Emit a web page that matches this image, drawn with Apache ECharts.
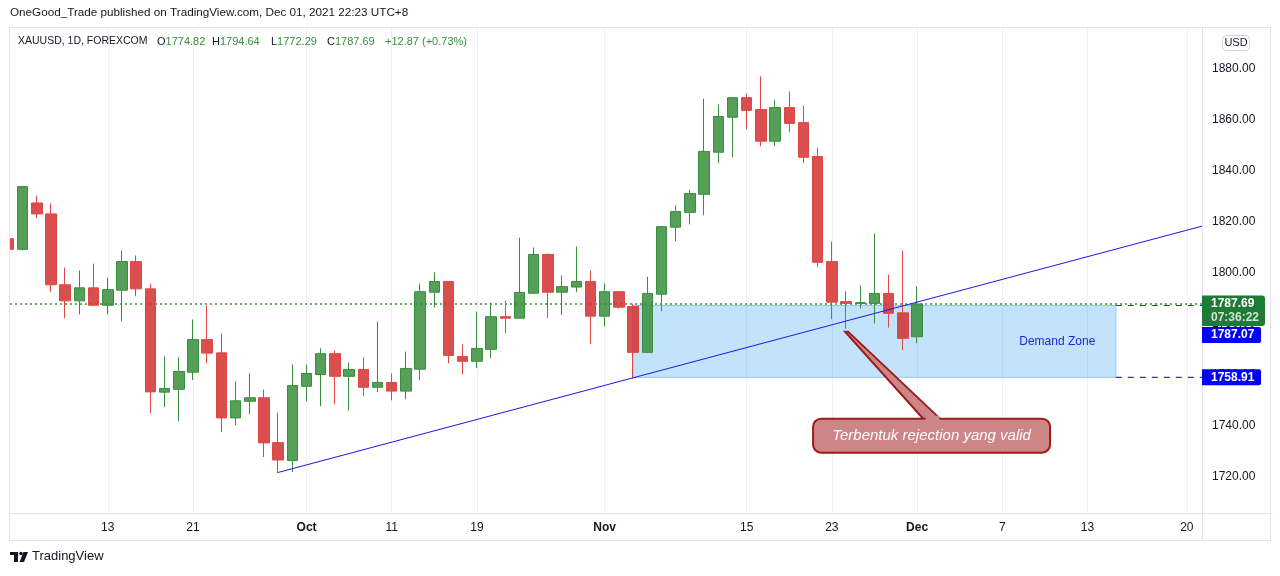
<!DOCTYPE html>
<html>
<head>
<meta charset="utf-8">
<title>XAUUSD 1D</title>
<script src="https://cdn.jsdelivr.net/npm/echarts@6/dist/echarts.min.js"></script>
<style>
  html, body { margin: 0; padding: 0; background: #ffffff; }
  #chart { width: 1280px; height: 576px; }
</style>
</head>
<body>
<div id="chart"></div>
<script>
// trading days, index 0 = Sep 2 2021
const dates = [
  'Sep 2', 'Sep 3', 'Sep 6', 'Sep 7', 'Sep 8', 'Sep 9', 'Sep 10', 'Sep 13', 'Sep 14', 'Sep 15',
  'Sep 16', 'Sep 17', 'Sep 20', 'Sep 21', 'Sep 22', 'Sep 23', 'Sep 24', 'Sep 27', 'Sep 28', 'Sep 29',
  'Sep 30', 'Oct 1', 'Oct 4', 'Oct 5', 'Oct 6', 'Oct 7', 'Oct 8', 'Oct 11', 'Oct 12', 'Oct 13',
  'Oct 14', 'Oct 15', 'Oct 18', 'Oct 19', 'Oct 20', 'Oct 21', 'Oct 22', 'Oct 25', 'Oct 26', 'Oct 27',
  'Oct 28', 'Oct 29', 'Nov 1', 'Nov 2', 'Nov 3', 'Nov 4', 'Nov 5', 'Nov 8', 'Nov 9', 'Nov 10',
  'Nov 11', 'Nov 12', 'Nov 15', 'Nov 16', 'Nov 17', 'Nov 18', 'Nov 19', 'Nov 22', 'Nov 23', 'Nov 24',
  'Nov 25', 'Nov 26', 'Nov 29', 'Nov 30', 'Dec 1'
]
const opens = [
  1813.3, 1809.1, 1827.3, 1823.0, 1795.2, 1788.9, 1794.0, 1787.2, 1793.1, 1804.3,
  1793.6, 1753.1, 1754.2, 1760.9, 1773.7, 1768.5, 1743.0, 1749.5, 1750.9, 1733.3,
  1726.3, 1755.4, 1760.0, 1768.2, 1759.3, 1762.0, 1755.0, 1756.9, 1753.5, 1762.1,
  1792.3, 1796.5, 1767.1, 1765.2, 1769.9, 1782.7, 1782.1, 1791.9, 1807.1, 1792.3,
  1794.3, 1796.5, 1782.9, 1792.5, 1786.7, 1768.7, 1791.5, 1817.8, 1823.6, 1830.7,
  1847.2, 1860.9, 1868.6, 1863.9, 1851.5, 1864.7, 1858.8, 1845.5, 1804.3, 1788.6,
  1787.9, 1787.9, 1791.8, 1784.2, 1774.82
]
const closes = [
  1809.1, 1833.7, 1823.0, 1795.2, 1788.9, 1794.0, 1787.2, 1793.3, 1804.3, 1793.6,
  1753.2, 1754.5, 1761.2, 1773.7, 1768.4, 1743.0, 1749.7, 1750.9, 1733.2, 1726.5,
  1755.7, 1760.4, 1768.2, 1759.3, 1762.0, 1755.0, 1756.9, 1753.5, 1762.4, 1792.5,
  1796.5, 1767.5, 1765.2, 1770.2, 1782.7, 1782.1, 1792.2, 1807.1, 1792.3, 1794.5,
  1796.5, 1782.9, 1792.5, 1786.4, 1768.7, 1791.8, 1818.0, 1823.9, 1831.0, 1847.5,
  1861.2, 1868.6, 1863.6, 1851.5, 1864.7, 1858.5, 1845.2, 1804.0, 1788.4, 1787.9,
  1788.2, 1791.8, 1784.0, 1774.2, 1787.69
]
const lows = [
  1808.5, 1808.7, 1821.3, 1792.3, 1782.1, 1783.6, 1786.8, 1783.6, 1780.9, 1790.7,
  1744.8, 1747.2, 1741.7, 1757.8, 1764.4, 1737.4, 1740.1, 1744.4, 1727.6, 1721.3,
  1721.8, 1749.5, 1747.6, 1748.4, 1745.9, 1751.5, 1753.1, 1749.9, 1750.3, 1757.8,
  1786.4, 1764.4, 1760.1, 1762.5, 1766.4, 1776.2, 1782.0, 1791.8, 1782.1, 1783.3,
  1792.3, 1771.9, 1778.9, 1785.9, 1758.4, 1768.6, 1784.8, 1812.2, 1818.9, 1822.5,
  1842.9, 1845.2, 1856.2, 1849.5, 1849.5, 1855.0, 1842.9, 1802.1, 1781.7, 1778.0,
  1785.9, 1780.0, 1778.4, 1769.5, 1772.29
]
const highs = [
  1814.0, 1834.0, 1830.2, 1827.1, 1802.0, 1800.8, 1803.5, 1798.0, 1808.6, 1806.7,
  1795.6, 1767.1, 1766.7, 1781.6, 1787.1, 1776.1, 1757.3, 1760.4, 1754.1, 1745.1,
  1763.9, 1763.9, 1770.3, 1769.4, 1764.7, 1766.7, 1780.8, 1760.4, 1769.0, 1795.7,
  1800.0, 1796.6, 1771.8, 1784.7, 1788.2, 1789.0, 1813.7, 1809.8, 1807.5, 1798.8,
  1810.2, 1800.8, 1795.7, 1792.7, 1787.8, 1798.4, 1818.1, 1826.3, 1832.5, 1868.2,
  1865.9, 1868.7, 1870.2, 1876.9, 1867.8, 1871.0, 1865.5, 1849.0, 1812.2, 1792.7,
  1794.9, 1815.3, 1799.2, 1808.6, 1794.64
]

// time scale labels (index: trading days up to Dec 1, calendar days after)
const tickIndex = [7, 13, 21, 27, 33, 42, 52, 58, 64, 70, 76, 83]
const tickLabels = ['13', '21', 'Oct', '11', '19', 'Nov', '15', '23', 'Dec', '7', '13', '20']
const priceTicks = [1720, 1740, 1760, 1780, 1800, 1820, 1840, 1860, 1880]

// drawings
const trendLine = [[19, 1721.6], [84.07, 1818.2]]
const zoneStart = 44      // Nov 3
const zoneEnd = 78        // Dec 15
const zoneTop = 1787.07
const zoneBottom = 1758.91
const lastPrice = 1787.69
const rejectIdx = 59      // Nov 24

const FONT = '"Liberation Sans", Arial, sans-serif'
const X_MIN = 0.113
const X_MAX = 84.07
const Y_MIN = 1705.7
const Y_MAX = 1896.3

const candles = dates.map((d, i) => [i, opens[i], closes[i], lows[i], highs[i]])

const flat = (x0, x1, y) => [[x0, y], [x1, y]]

const option = {
  animation: false,
  backgroundColor: '#ffffff',
  textStyle: { fontFamily: FONT },
  grid: { left: 10, right: 78, top: 27, bottom: 63 },
  xAxis: {
    type: 'value',
    min: X_MIN,
    max: X_MAX,
    axisLine: { show: true, lineStyle: { color: '#e0e3eb' } },
    axisTick: { show: false, customValues: tickIndex },
    axisLabel: {
      customValues: tickIndex,
      color: '#131722',
      fontSize: 12,
      margin: 9,
      formatter: (v) => {
        const s = tickLabels[tickIndex.indexOf(v)]
        return ['Oct', 'Nov', 'Dec'].includes(s) ? '{m|' + s + '}' : s
      },
      rich: { m: { fontWeight: 'bold', fontSize: 12, color: '#131722' } }
    },
    splitLine: { show: true, lineStyle: { color: '#eef0f4', width: 1 } }
  },
  yAxis: {
    type: 'value',
    position: 'right',
    min: Y_MIN,
    max: Y_MAX,
    axisLine: { show: true, lineStyle: { color: '#e0e3eb' } },
    axisTick: { show: false, customValues: priceTicks },
    axisLabel: {
      customValues: priceTicks,
      formatter: (v) => v.toFixed(2),
      color: '#131722',
      fontSize: 12,
      margin: 10
    },
    splitLine: { show: false }
  },
  series: [
    {
      // demand zone
      name: 'zone',
      type: 'line',
      z: 1,
      silent: true,
      showSymbol: false,
      lineStyle: { opacity: 0 },
      data: [[zoneStart, zoneTop], [zoneEnd, zoneBottom]],
      markArea: {
        silent: true,
        itemStyle: { color: 'rgba(33,150,243,0.27)', borderColor: '#90c8f6', borderWidth: 1 },
        label: { show: true, position: 'insideRight', distance: 21, color: '#2424e0', fontSize: 12, fontFamily: FONT },
        data: [[
          { name: 'Demand Zone', xAxis: zoneStart, yAxis: zoneTop },
          { xAxis: zoneEnd, yAxis: zoneBottom }
        ]]
      }
    },
    {
      // dashed rays from the zone edges
      name: 'rayTop', type: 'line', z: 2, silent: true, showSymbol: false,
      data: flat(zoneEnd, X_MAX, zoneTop),
      lineStyle: { type: [6, 6], color: '#2a2aff', width: 1.2 }
    },
    {
      name: 'rayBottom', type: 'line', z: 2, silent: true, showSymbol: false,
      data: flat(zoneEnd, X_MAX, zoneBottom),
      lineStyle: { type: [6, 6], color: '#2a2aff', width: 1.2 }
    },
    {
      // last price line
      name: 'last', type: 'line', z: 2, silent: true, showSymbol: false,
      data: flat(X_MIN, X_MAX, lastPrice),
      lineStyle: { type: [2, 3], color: '#388e3c', width: 1.5 }
    },
    {
      name: 'XAUUSD',
      type: 'candlestick',
      z: 3,
      clip: true,
      encode: { x: 0, y: [1, 2, 3, 4] },
      data: candles,
      barWidth: 11,
      itemStyle: {
        color: 'rgba(56,142,60,0.85)',
        color0: 'rgba(211,47,47,0.85)',
        borderColor: '#388e3c',
        borderColor0: '#e04848',
        borderWidth: 1
      }
    },
    {
      name: 'trend',
      type: 'line',
      z: 4,
      silent: true,
      showSymbol: false,
      data: trendLine,
      lineStyle: { color: '#1818f0', width: 1 }
    }
  ]
}

const chart = echarts.init(document.getElementById('chart'))
chart.setOption(option)

// overlays anchored to the data through the chart's own scales
const tip = chart.convertToPixel({ gridIndex: 0 }, [rejectIdx, lows[rejectIdx]])
const tx = tip[0]
const ty = tip[1]
const py1 = chart.convertToPixel({ gridIndex: 0 }, [0, lastPrice])[1]
const py2 = chart.convertToPixel({ gridIndex: 0 }, [0, zoneBottom])[1]
const frame = '#e0e3eb'
const calloutFill = '#cd8585'
const calloutLine = '#9b1c1c'
const rowFont = '11px ' + FONT

chart.setOption({
  graphic: [
    // cover for the candle cut at the left edge
    { type: 'rect', z: 50, shape: { x: 0, y: 27, width: 9, height: 490 }, style: { fill: '#ffffff' } },
    // frame
    { type: 'line', z: 51, shape: { x1: 9, y1: 27.5, x2: 1271, y2: 27.5 }, style: { stroke: frame } },
    { type: 'line', z: 51, shape: { x1: 9.5, y1: 27, x2: 9.5, y2: 541 }, style: { stroke: frame } },
    { type: 'line', z: 51, shape: { x1: 1270.5, y1: 27, x2: 1270.5, y2: 541 }, style: { stroke: frame } },
    { type: 'line', z: 51, shape: { x1: 9, y1: 540.5, x2: 1271, y2: 540.5 }, style: { stroke: frame } },
    { type: 'line', z: 51, shape: { x1: 9, y1: 513.5, x2: 1271, y2: 513.5 }, style: { stroke: frame } },
    { type: 'line', z: 51, shape: { x1: 1202.5, y1: 27, x2: 1202.5, y2: 541 }, style: { stroke: frame } },

    // header
    {
      type: 'text', left: 10, top: 7,
      style: { text: 'OneGood_Trade published on TradingView.com, Dec 01, 2021 22:23 UTC+8', fill: '#131722', font: '11.7px ' + FONT }
    },
    {
      type: 'text', left: 18, top: 36,
      style: { text: 'XAUUSD, 1D, FOREXCOM', fill: '#131722', font: '10.5px ' + FONT }
    },
    ...[['O', '1774.82', 157], ['H', '1794.64', 212], ['L', '1772.29', 271], ['C', '1787.69', 327]].map(([k, v, x]) => ({
      type: 'text', left: x, top: 36,
      style: {
        text: '{k|' + k + '}{v|' + v + '}',
        font: rowFont,
        rich: { k: { fill: '#131722', font: rowFont }, v: { fill: '#388e3c', font: rowFont } }
      }
    })),
    {
      type: 'text', left: 385, top: 36,
      style: { text: '+12.87 (+0.73%)', fill: '#388e3c', font: rowFont }
    },

    // USD badge
    { type: 'rect', shape: { x: 1222.5, y: 35.5, width: 27, height: 15, r: 4 }, style: { fill: '#fff', stroke: '#d1d4dc' } },
    { type: 'text', x: 1236, y: 43, style: { text: 'USD', fill: '#131722', font: '11px ' + FONT, align: 'center', verticalAlign: 'middle' } },

    // price scale labels
    { type: 'rect', z: 60, shape: { x: 1202, y: py1 - 8.5, width: 63, height: 30.5, r: [0, 3, 3, 0] }, style: { fill: '#1e7b33' } },
    { type: 'text', z: 61, x: 1211, y: py1, style: { text: '1787.69', fill: '#ffffff', font: 'bold 12px ' + FONT, verticalAlign: 'middle' } },
    { type: 'text', z: 61, x: 1211, y: py1 + 14, style: { text: '07:36:22', fill: 'rgba(255,255,255,0.78)', font: 'bold 12px ' + FONT, verticalAlign: 'middle' } },
    { type: 'rect', z: 60, shape: { x: 1202, y: py1 + 23, width: 59, height: 16, r: [0, 2, 2, 0] }, style: { fill: '#0000ff' } },
    { type: 'text', z: 61, x: 1211, y: py1 + 31, style: { text: '1787.07', fill: '#ffffff', font: 'bold 12px ' + FONT, verticalAlign: 'middle' } },
    { type: 'rect', z: 60, shape: { x: 1202, y: py2 - 8, width: 59, height: 16, r: [0, 2, 2, 0] }, style: { fill: '#0000ff' } },
    { type: 'text', z: 61, x: 1211, y: py2, style: { text: '1758.91', fill: '#ffffff', font: 'bold 12px ' + FONT, verticalAlign: 'middle' } },

    // rejection callout
    {
      type: 'polygon', z: 20,
      shape: { points: [[tx - 1, ty + 3], [tx + 2, ty + 3], [tx + 95, ty + 91], [tx + 78, ty + 91]] },
      style: { fill: calloutFill, stroke: calloutLine, lineWidth: 2 }
    },
    {
      type: 'rect', z: 21,
      shape: { x: tx - 33, y: ty + 90, width: 237, height: 34, r: 8 },
      style: { fill: calloutFill, stroke: calloutLine, lineWidth: 2 }
    },
    {
      type: 'polygon', z: 22,
      shape: { points: [[tx + 80, ty + 87], [tx + 93, ty + 87], [tx + 94, ty + 93], [tx + 79, ty + 93]] },
      style: { fill: calloutFill }
    },
    {
      type: 'text', z: 23, x: tx + 85.5, y: ty + 107,
      style: { text: 'Terbentuk rejection yang valid', fill: '#ffffff', font: 'italic 15px ' + FONT, align: 'center', verticalAlign: 'middle' }
    },

    // TradingView logo
    { type: 'rect', shape: { x: 10, y: 552, width: 8, height: 3 }, style: { fill: '#131722' } },
    { type: 'rect', shape: { x: 14, y: 552, width: 4, height: 10 }, style: { fill: '#131722' } },
    { type: 'circle', shape: { cx: 21, cy: 553.5, r: 1.8 }, style: { fill: '#131722' } },
    { type: 'polygon', shape: { points: [[23.5, 552], [28, 552], [24, 562], [19.5, 562]] }, style: { fill: '#131722' } },
    { type: 'text', left: 32, top: 550, style: { text: 'TradingView', fill: '#131722', font: '13px ' + FONT } }
  ]
})
</script>
</body>
</html>
